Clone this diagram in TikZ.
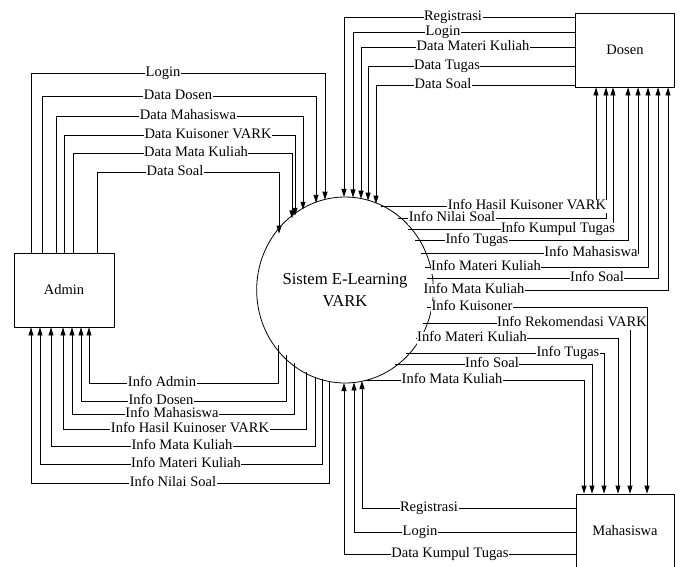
\documentclass[tikz,border=0pt]{standalone}
\usepackage{fontspec}
\setmainfont{Liberation Serif}
\usetikzlibrary{shapes.geometric,arrows.meta,intersections}
\pgfdeclarelayer{fg}
\pgfsetlayers{main,fg}
\tikzset{
  flow/.style={draw, line width=0.8pt, -{Triangle[length=8pt,width=5pt]}},
  lbl/.style={fill=white, inner xsep=0.5pt, inner ysep=0pt, text height=10pt, text depth=3pt, font=\fontsize{14.5}{16}\selectfont},
  entity/.style={draw, line width=0.8pt, minimum width=99pt, minimum height=74pt, inner sep=0pt, font=\fontsize{14.5}{16}\selectfont},
  procnode/.style={draw, ellipse, line width=0.8pt, minimum width=166pt, minimum height=186pt, inner sep=0pt, align=center, font=\fontsize{16.6}{22}\selectfont},
}
% intersection helpers
\newcommand\EllV[2]{%
  \path[name path=tmpv] (#2,110) -- (#2,470);
  \path[name intersections={of=tmpv and ellp, sort by=tmpv, name=#1}];}
\newcommand\EllH[2]{%
  \path[name path=tmph] (sys.center |- 0,#2) -- ++(250,0);
  \path[name intersections={of=tmph and ellp, name=#1}];}
\newcommand\PutLbl[4]{\begin{pgfonlayer}{fg}\node[lbl] (#1) at (#2,#3) {#4};\end{pgfonlayer}}
% Admin -> system (top)
\newcommand\AdIn[6]{%
  \EllV{q#1}{#4}
  \draw[flow] (admin.north -| #2,0) |- (q#1-1 |- 0,#3) -- (q#1-1);
  \PutLbl{#1}{#5}{#3}{#6}}
% system -> Admin (bottom)
\newcommand\AdOut[6]{%
  \EllV{q#1}{#2}
  \draw[flow] (q#1-2) -- (q#1-2 |- 0,#3) -| (admin.south -| #4,0);
  \PutLbl{#1}{#5}{#3}{#6}}
% Dosen -> system
\newcommand\DoIn[5]{%
  \EllV{q#1}{#3}
  \draw[flow] (dosen.west |- 0,#2) -| (q#1-1);
  \PutLbl{#1}{#4}{#2}{#5}}
% system -> Dosen
\newcommand\DoOut[5]{%
  \EllH{q#1}{#2}
  \draw[flow] (q#1-1) -| (dosen.south -| #3,0);
  \PutLbl{#1}{#4}{#2}{#5}}
% system -> Mahasiswa
\newcommand\MhOut[5]{%
  \EllH{q#1}{#2}
  \draw[flow] (q#1-1) -| (mhs.north -| #3,0);
  \PutLbl{#1}{#4}{#2}{#5}}
% Mahasiswa -> system
\newcommand\MhIn[5]{%
  \EllV{q#1}{#3}
  \draw[flow] (mhs.west |- 0,#2) -| (q#1-2);
  \PutLbl{#1}{#4}{#2}{#5}}
\begin{document}
\begin{tikzpicture}[x=1pt,y=-1pt]
\useasboundingbox (0,0) rectangle (680,566);
\fill[white] (0,0) rectangle (680,566);

\node[procnode] (sys) at (345,290) {Sistem E-Learning\\VARK};
\path[name path=ellp] (sys.center) ellipse [x radius=83pt, y radius=93pt];
\node[entity, minimum width=100pt] (admin) at (64,290) {Admin};
\node[entity] (dosen) at (625,50) {Dosen};
\node[entity, minimum width=98pt] (mhs) at (625,531) {Mahasiswa};

\AdIn{al}{31}{73}{325}{163}{Login}
\AdIn{ad}{42}{96}{316}{178}{Data Dosen}
\AdIn{am}{56}{116}{303}{188}{Data Mahasiswa}
\AdIn{ak}{64}{135}{295}{208}{Data Kuisoner VARK}
\AdIn{amk}{73}{153}{292}{196}{Data Mata Kuliah}
\AdIn{as}{97}{172}{279}{175}{Data Soal}

\AdOut{bi}{278}{383}{89}{162}{Info Admin}
\AdOut{bd}{286}{401}{81}{161}{Info Dosen}
\AdOut{bm}{294}{414}{72}{172}{Info Mahasiswa}
\AdOut{bh}{306}{429}{63}{190}{Info Hasil Kuinoser VARK}
\AdOut{bmk}{315}{446}{51}{182}{Info Mata Kuliah}
\AdOut{bmt}{322}{464}{40}{186}{Info Materi Kuliah}
\AdOut{bn}{329}{483}{31}{173}{Info Nilai Soal}

\DoIn{dr}{17}{344}{453}{Registrasi}
\DoIn{dl}{32}{353}{443}{Login}
\DoIn{dm}{47}{361}{473}{Data Materi Kuliah}
\DoIn{dt}{66}{368}{447}{Data Tugas}
\DoIn{ds}{85}{376}{443}{Data Soal}

\DoOut{eh}{206}{596}{527}{Info Hasil Kuisoner VARK}
\DoOut{en}{218}{606}{452}{Info Nilai Soal}
\DoOut{ek}{229}{613}{558}{Info Kumpul Tugas}
\DoOut{et}{240}{628}{477}{Info Tugas}
\DoOut{em}{253}{638}{591}{Info Mahasiswa}
\DoOut{emt}{267}{648}{486}{Info Materi Kuliah}
\DoOut{es}{278}{658}{597}{Info Soal}
\DoOut{emk}{290}{668}{474}{Info Mata Kuliah}

\MhOut{fk}{307}{647}{472}{Info Kuisoner}
\MhOut{fr}{323}{630}{572}{Info Rekomendasi VARK}
\MhOut{fmt}{338}{618}{472}{Info Materi Kuliah}
\MhOut{ft}{353}{604}{568}{Info Tugas}
\MhOut{fs}{364}{592}{492}{Info Soal}
\MhOut{fmk}{380}{584}{452}{Info Mata Kuliah}

\MhIn{gr}{508}{362}{429}{Registrasi}
\MhIn{gl}{532}{354}{420}{Login}
\MhIn{gk}{554}{344}{450}{Data Kumpul Tugas}
\end{tikzpicture}
\end{document}
